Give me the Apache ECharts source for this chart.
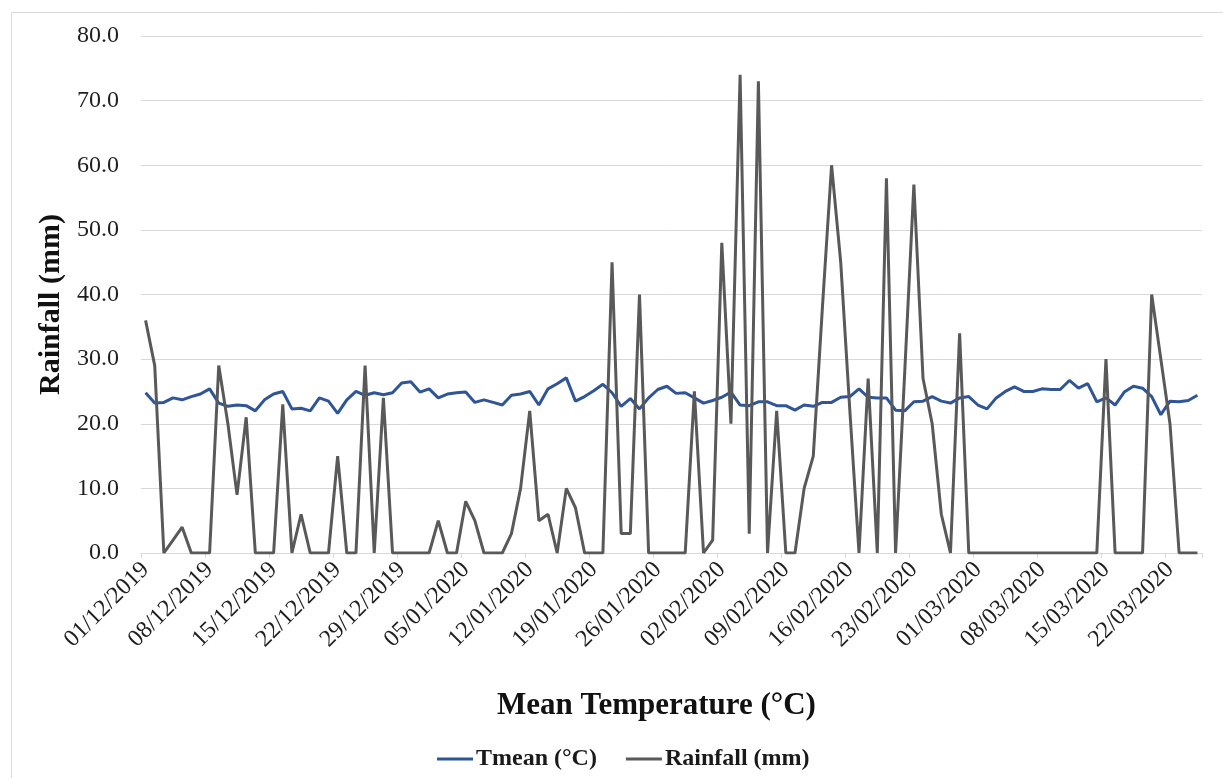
<!DOCTYPE html>
<html>
<head>
<meta charset="utf-8">
<script src="https://cdn.jsdelivr.net/npm/echarts@6/dist/echarts.min.js"></script>
<style>
html,body{margin:0;padding:0;background:#fff;}
#chart{width:1223px;height:778px;}
</style>
</head>
<body>
<div id="chart"></div>
<script>
// ---- data ----
var startDate = [2019, 12, 1];   // first day (01/12/2019)
var dayCount = 116;              // 01/12/2019 .. 25/03/2020

var tmean = [
  24.8, 23.2, 23.3, 24.0, 23.7, 24.2, 24.6, 25.4, 23.2, 22.7, 22.9, 22.8, 22.0, 23.7, 24.6, 25.0, 22.3, 22.4, 22.0, 24.0,
  23.5, 21.6, 23.7, 25.0, 24.4, 24.8, 24.5, 24.8, 26.3, 26.5, 24.9, 25.4, 24.0, 24.6, 24.8, 24.9, 23.3, 23.7, 23.3, 22.9,
  24.4, 24.6, 25.0, 22.9, 25.4, 26.2, 27.1, 23.5, 24.2, 25.1, 26.1, 24.8, 22.7, 23.9, 22.3, 24.0, 25.3, 25.8, 24.7, 24.8,
  24.0, 23.2, 23.6, 24.1, 24.9, 22.9, 22.8, 23.4, 23.4, 22.8, 22.8, 22.1, 22.9, 22.7, 23.3, 23.3, 24.1, 24.2, 25.4, 24.1,
  24.0, 24.0, 22.1, 22.0, 23.4, 23.5, 24.2, 23.5, 23.2, 24.0, 24.2, 22.9, 22.3, 24.0, 25.0, 25.7, 25.0, 25.0, 25.4, 25.3,
  25.3, 26.7, 25.5, 26.2, 23.4, 24.0, 22.9, 24.9, 25.8, 25.5, 24.2, 21.4, 23.5, 23.4, 23.6, 24.4
];

var rainfall = [
  36, 29, 0, 2, 4, 0, 0, 0, 29, 20, 9, 21, 0, 0, 0, 23, 0, 6, 0, 0,
  0, 15, 0, 0, 29, 0, 24, 0, 0, 0, 0, 0, 5, 0, 0, 8, 5, 0, 0, 0,
  3, 10, 22, 5, 6, 0, 10, 7, 0, 0, 0, 45, 3, 3, 40, 0, 0, 0, 0, 0,
  25, 0, 2, 48, 20, 74, 3, 73, 0, 22, 0, 0, 10, 15, 38, 60, 45, 22, 0, 27,
  0, 58, 0, 28, 57, 27, 20, 6, 0, 34, 0, 0, 0, 0, 0, 0, 0, 0, 0, 0,
  0, 0, 0, 0, 0, 30, 0, 0, 0, 0, 40, 30, 20, 0, 0, 0
];

var yTicks = { min: 0, max: 80, interval: 10 };
var labelEvery = 7; // one date label per week

// category labels dd/mm/yyyy
function pad(n){ return (n < 10 ? '0' : '') + n; }
var categories = [];
(function(){
  var d = new Date(Date.UTC(startDate[0], startDate[1]-1, startDate[2]));
  for (var i = 0; i < dayCount; i++) {
    categories.push(pad(d.getUTCDate()) + '/' + pad(d.getUTCMonth()+1) + '/' + d.getUTCFullYear());
    d.setUTCDate(d.getUTCDate() + 1);
  }
})();

var serif = '"Liberation Serif", "Times New Roman", serif';
var chart = echarts.init(document.getElementById('chart'), null, {renderer: 'canvas'});

chart.setOption({
  backgroundColor: '#ffffff',
  animation: false,
  graphic: [{
    type: 'rect',
    shape: { x: 11.5, y: 12.5, width: 1300, height: 900 },
    style: { fill: 'none', stroke: '#d9d9d9', lineWidth: 1 },
    silent: true, z: -10
  }],
  grid: { left: 141, right: 21, top: 36, bottom: 225, containLabel: false },
  legend: {
    data: ['Tmean (°C)', 'Rainfall (mm)'],
    left: 432, top: 742,
    icon: 'rect', itemWidth: 36, itemHeight: 3, itemGap: 29,
    textStyle: { fontFamily: serif, fontWeight: 'bold', fontSize: 24, color: '#1a1a1a', padding: [0,0,0,-2] }
  },
  xAxis: {
    type: 'category',
    data: categories,
    boundaryGap: true,
    name: 'Mean Temperature (°C)',
    nameLocation: 'middle',
    nameGap: 137,
    nameTextStyle: { fontFamily: serif, fontWeight: 'bold', fontSize: 31, color: '#111', padding: [0, 30, 0, 0] },
    axisLine: { show: true, lineStyle: { color: '#d9d9d9', width: 1 } },
    axisTick: { show: true, interval: labelEvery - 1, length: 5, lineStyle: { color: '#d9d9d9' } },
    axisLabel: {
      interval: labelEvery - 1, rotate: 45, margin: 13,
      fontFamily: serif, fontSize: 24, color: '#1f1f1f'
    },
    splitLine: { show: false }
  },
  yAxis: {
    type: 'value',
    min: yTicks.min, max: yTicks.max, interval: yTicks.interval,
    name: 'Rainfall (mm)',
    nameLocation: 'middle',
    nameGap: 74,
    nameRotate: 90,
    nameTextStyle: { fontFamily: serif, fontWeight: 'bold', fontSize: 30, color: '#111', padding: [0, 20, 0, 0] },
    axisLine: { show: false },
    axisTick: { show: false },
    axisLabel: {
      margin: 22, fontFamily: serif, fontSize: 24, color: '#1f1f1f',
      formatter: function(v){ return v.toFixed(1); }
    },
    splitLine: { show: true, lineStyle: { color: '#d9d9d9', width: 1 } }
  },
  series: [
    {
      name: 'Tmean (°C)', type: 'line', data: tmean,
      showSymbol: false, symbol: 'none',
      lineStyle: { color: '#2f5597', width: 3 },
      itemStyle: { color: '#2f5597' },
      z: 2
    },
    {
      name: 'Rainfall (mm)', type: 'line', data: rainfall,
      showSymbol: false, symbol: 'none',
      lineStyle: { color: '#595959', width: 3 },
      itemStyle: { color: '#595959' },
      z: 3
    }
  ]
});
</script>
</body>
</html>
